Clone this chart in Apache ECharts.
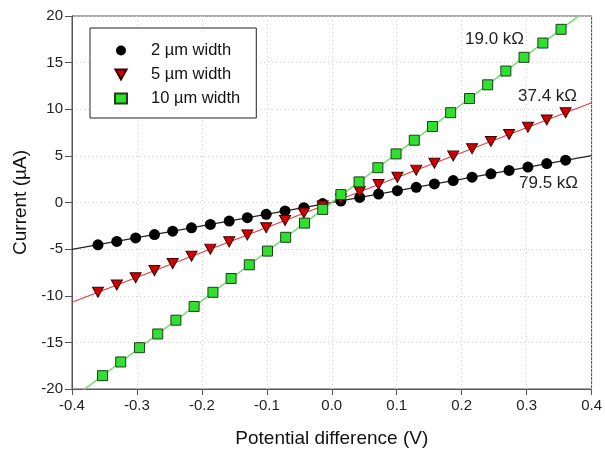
<!DOCTYPE html>
<html>
<head>
<meta charset="utf-8">
<script src="https://cdn.jsdelivr.net/npm/echarts@6/dist/echarts.min.js"></script>
<style>
  html, body { margin: 0; padding: 0; background: #fff; }
  #chart { width: 605px; height: 455px; }
</style>
</head>
<body>
<div id="chart"></div>
<script>
// measured sweep voltages (V)
const voltsNarrow = [-0.360, -0.331, -0.302, -0.273, -0.245, -0.216, -0.187, -0.158, -0.130, -0.101, -0.072, -0.043, -0.014,
  0.014, 0.043, 0.072, 0.101, 0.130, 0.158, 0.187, 0.216, 0.245, 0.273, 0.302, 0.331, 0.360]
const voltsWide = [-0.353, -0.325, -0.296, -0.268, -0.240, -0.212, -0.183, -0.155, -0.127, -0.099, -0.071, -0.042, -0.014,
  0.014, 0.042, 0.071, 0.099, 0.127, 0.155, 0.183, 0.212, 0.240, 0.268, 0.296, 0.325, 0.353]

// currents (uA)
const current2um = [-4.54, -4.17, -3.80, -3.44, -3.08, -2.72, -2.35, -1.99, -1.63, -1.27, -0.91, -0.55, -0.12,
  0.15, 0.54, 0.91, 1.27, 1.63, 1.99, 2.35, 2.72, 3.08, 3.44, 3.80, 4.17, 4.54]
const current5um = [-9.62, -8.85, -8.07, -7.30, -6.55, -5.77, -5.00, -4.22, -3.47, -2.70, -1.92, -1.12, -0.37,
  0.37, 1.15, 1.92, 2.70, 3.47, 4.22, 5.00, 5.77, 6.55, 7.30, 8.07, 8.85, 9.62]
const current10um = [-18.57, -17.10, -15.57, -14.10, -12.62, -11.15, -9.63, -8.15, -6.68, -5.21, -3.73, -2.21, -0.74,
  0.85, 2.21, 3.73, 5.21, 6.68, 8.15, 9.63, 11.15, 12.62, 14.10, 15.57, 17.10, 18.57]

// linear fit end points (V, uA)
const fitVolts = [-0.4, 0.4]
const fit2um = [-5.03, 5.03]
const fit5um = [-10.7, 10.7]
const fit10um = [-21.05, 21.05]

const seriesNames = ['2 µm width', '5 µm width', '10 µm width']
const resistances = ['19.0 kΩ', '37.4 kΩ', '79.5 kΩ']

const xTicks = { min: -0.4, max: 0.4, interval: 0.1 }
const yTicks = { min: -20, max: 20, interval: 5 }

const font = "'Liberation Sans', Arial, sans-serif"

function zip(xs, ys) {
  return xs.map((x, i) => [x, ys[i]])
}

const chart = echarts.init(document.getElementById('chart'))

const splitDots = { show: true, lineStyle: { color: '#d0d0d0', type: [1, 3], width: 1 } }

chart.setOption({
  animation: false,
  backgroundColor: '#fff',
  grid: { left: 72, right: 13, top: 16, bottom: 66, show: true, borderColor: '#555', borderWidth: 1 },
  legend: {
    data: seriesNames,
    orient: 'vertical',
    left: 90,
    top: 28,
    padding: [14, 16, 11, 24],
    itemWidth: 12,
    itemHeight: 10,
    itemGap: 7,
    borderColor: '#222',
    borderWidth: 1,
    backgroundColor: '#fff',
    textStyle: { fontFamily: font, fontSize: 16.5, color: '#111', padding: [0, 0, 0, 19], lineHeight: 14 },
  },
  xAxis: {
    type: 'value',
    min: xTicks.min,
    max: xTicks.max,
    interval: xTicks.interval,
    name: 'Potential difference (V)',
    nameLocation: 'middle',
    nameGap: 40,
    nameTextStyle: { fontFamily: font, fontSize: 19, color: '#111' },
    axisLine: { show: true, onZero: false, lineStyle: { color: '#555' } },
    axisTick: { show: true, length: 6, lineStyle: { color: '#555' } },
    axisLabel: { fontFamily: font, fontSize: 15, color: '#222', margin: 9, formatter: (v) => v.toFixed(1) },
    splitLine: splitDots,
  },
  yAxis: {
    type: 'value',
    min: yTicks.min,
    max: yTicks.max,
    interval: yTicks.interval,
    name: 'Current (µA)',
    nameLocation: 'middle',
    nameGap: 41,
    nameTextStyle: { fontFamily: font, fontSize: 19, color: '#111' },
    axisLine: { show: true, onZero: false, lineStyle: { color: '#555' } },
    axisTick: { show: true, length: 7, lineStyle: { color: '#555' } },
    axisLabel: { fontFamily: font, fontSize: 15, color: '#222', margin: 9 },
    splitLine: splitDots,
  },
  series: [
    {
      type: 'line', data: zip(fitVolts, fit2um), symbol: 'none', silent: true, z: 1,
      lineStyle: { color: '#222', width: 1.2 },
    },
    {
      type: 'line', data: zip(fitVolts, fit5um), symbol: 'none', silent: true, z: 1,
      lineStyle: { color: '#e83a3a', width: 1.2 },
    },
    {
      type: 'line', data: zip(fitVolts, fit10um), symbol: 'none', silent: true, z: 1,
      lineStyle: { color: '#6ad86a', width: 1.4 },
    },
    {
      name: seriesNames[0], type: 'scatter', z: 3,
      data: zip(voltsNarrow, current2um),
      symbol: 'circle', symbolSize: 11,
      itemStyle: { color: '#000', opacity: 1 },
    },
    {
      name: seriesNames[1], type: 'scatter', z: 3,
      data: zip(voltsNarrow, current5um),
      symbol: 'path://M0,0 L10,0 L5,9 Z', symbolSize: [11, 10],
      itemStyle: { color: '#d40000', borderColor: '#3a0000', borderWidth: 1, opacity: 1 },
    },
    {
      name: seriesNames[2], type: 'scatter', z: 3,
      data: zip(voltsWide, current10um),
      symbol: 'rect', symbolSize: 10,
      itemStyle: { color: '#2fe02f', borderColor: '#1d3d1d', borderWidth: 1, opacity: 1 },
    },
  ],
  graphic: [
    { type: 'text', left: 465, top: 31, style: { text: resistances[0], font: '17px ' + font, fill: '#222' } },
    { type: 'text', left: 518, top: 88, style: { text: resistances[1], font: '17px ' + font, fill: '#222' } },
    { type: 'text', left: 519, top: 175, style: { text: resistances[2], font: '17px ' + font, fill: '#222' } },
  ],
})
</script>
</body>
</html>
